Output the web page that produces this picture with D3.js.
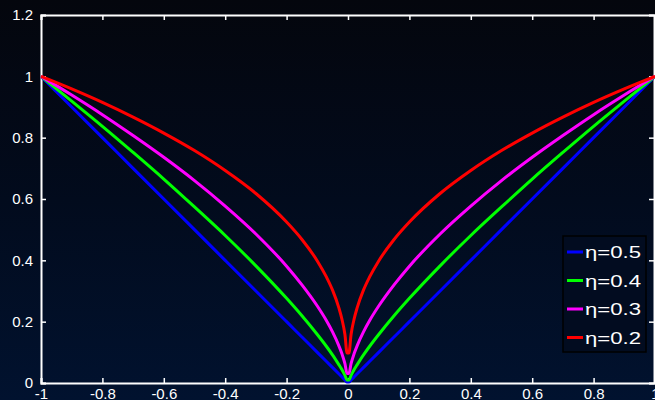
<!DOCTYPE html>
<meta charset="utf-8">
<head>
    <script type="text/javascript" src="https://d3js.org/d3.v7.min.js"></script>
    <style>
        body { margin: 0; background: #000; }
        svg { display: block; }
        text { font-family: "Liberation Sans", Arial, sans-serif; fill: #fff; }
    </style>
    <title></title>
</head>
<body>
<script>

    // x samples and curve values
    var xs = [-1, -0.9, -0.8, -0.7, -0.6, -0.5, -0.4, -0.3, -0.2, -0.15, -0.1, -0.07, -0.05, -0.03, -0.02, -0.01, -0.003,
              0.003, 0.01, 0.02, 0.03, 0.05, 0.07, 0.1, 0.15, 0.2, 0.3, 0.4, 0.5, 0.6, 0.7, 0.8, 0.9, 1];
    var eta05 = [1, 0.9, 0.8, 0.7, 0.6, 0.5, 0.4, 0.3, 0.2, 0.15, 0.1, 0.07, 0.05, 0.03, 0.02, 0.01, 0.003,
                 0.003, 0.01, 0.02, 0.03, 0.05, 0.07, 0.1, 0.15, 0.2, 0.3, 0.4, 0.5, 0.6, 0.7, 0.8, 0.9, 1];
    var eta04 = [1, 0.919, 0.837, 0.752, 0.665, 0.574, 0.481, 0.382, 0.276, 0.219, 0.158, 0.119, 0.091, 0.060, 0.044, 0.025, 0.010,
                 0.010, 0.025, 0.044, 0.060, 0.091, 0.119, 0.158, 0.219, 0.276, 0.382, 0.481, 0.574, 0.665, 0.752, 0.837, 0.919, 1];
    var eta03 = [1, 0.939, 0.875, 0.807, 0.736, 0.660, 0.577, 0.486, 0.381, 0.320, 0.251, 0.203, 0.166, 0.122, 0.096, 0.063, 0.031,
                 0.031, 0.063, 0.096, 0.122, 0.166, 0.203, 0.251, 0.320, 0.381, 0.486, 0.577, 0.660, 0.736, 0.807, 0.875, 0.939, 1];
    var eta02 = [1, 0.959, 0.915, 0.867, 0.815, 0.758, 0.693, 0.618, 0.525, 0.468, 0.398, 0.345, 0.302, 0.246, 0.209, 0.158, 0.098,
                 0.098, 0.158, 0.209, 0.246, 0.302, 0.345, 0.398, 0.468, 0.525, 0.618, 0.693, 0.758, 0.815, 0.867, 0.915, 0.959, 1];

    var seriesNames = ["\u03b7=0.5", "\u03b7=0.4", "\u03b7=0.3", "\u03b7=0.2"];
    var seriesColors = ["#0000ff", "#00ff00", "#ff00ff", "#ff0000"];
    var seriesValues = [eta05, eta04, eta03, eta02];

    var xTicks = [-1, -0.8, -0.6, -0.4, -0.2, 0, 0.2, 0.4, 0.6, 0.8, 1];
    var yTicks = [0, 0.2, 0.4, 0.6, 0.8, 1, 1.2];

    // dimensions
    var W = 655, H = 400;
    var margin = {top: 15, right: 0, bottom: 17, left: 41};

    var svg = d3.select("body")
        .append("svg")
        .attr("width", W)
        .attr("height", H);

    // background gradient
    var defs = svg.append("defs");
    var grad = defs.append("linearGradient")
        .attr("id", "bg")
        .attr("x1", 0).attr("y1", 0).attr("x2", 0).attr("y2", 1);
    grad.append("stop").attr("offset", "0%").attr("stop-color", "#04060d");
    grad.append("stop").attr("offset", "50%").attr("stop-color", "#020b1d");
    grad.append("stop").attr("offset", "100%").attr("stop-color", "#01122f");

    svg.append("rect")
        .attr("width", W).attr("height", H)
        .attr("fill", "url(#bg)");

    var x = d3.scaleLinear().domain([-1, 1]).range([margin.left, W - margin.right]);
    var y = d3.scaleLinear().domain([0, 1.2]).range([H - margin.bottom, margin.top]);

    // plain hyphen minus like the original
    var fmt = function (d) { return String(d); };

    // axes with inward ticks
    var axisColor = "#ffffff";
    var gx = svg.append("g")
        .attr("transform", "translate(0," + y(0) + ")")
        .call(d3.axisBottom(x).tickValues(xTicks).tickSize(-5).tickPadding(9).tickFormat(fmt));
    var gxTop = svg.append("g")
        .attr("transform", "translate(0," + y(1.2) + ")")
        .call(d3.axisTop(x).tickValues(xTicks).tickSize(-5).tickFormat(""));
    var gy = svg.append("g")
        .attr("transform", "translate(" + x(-1) + ",0)")
        .call(d3.axisLeft(y).tickValues(yTicks).tickSize(-5).tickPadding(8).tickFormat(fmt));
    var gyRight = svg.append("g")
        .attr("transform", "translate(" + (x(1) - 1) + ",0)")
        .call(d3.axisRight(y).tickValues(yTicks).tickSize(-5).tickFormat(""));

    [gx, gxTop, gy, gyRight].forEach(function (g) {
        g.select(".domain").attr("stroke", axisColor).attr("stroke-width", 2);
        g.selectAll(".tick line").attr("stroke", axisColor).attr("stroke-width", 1.5);
        g.selectAll(".tick text").style("font-size", "15px").attr("fill", "#fff")
            .style("font-family", "Liberation Sans, Arial, sans-serif");
    });
    gx.selectAll(".tick text").attr("dy", "0.45em");

    // curves
    var line = d3.line()
        .x(function (d) { return x(d[0]); })
        .y(function (d) { return y(d[1]); })
        .curve(d3.curveMonotoneX);

    seriesValues.forEach(function (vals, i) {
        var pts = xs.map(function (xv, j) { return [xv, vals[j]]; });
        svg.append("path")
            .datum(pts)
            .attr("fill", "none")
            .attr("stroke", seriesColors[i])
            .attr("stroke-width", 3)
            .attr("stroke-linejoin", "round")
            .attr("d", line);
    });

    // legend
    var lg = svg.append("g").attr("transform", "translate(563,236)");
    lg.append("rect")
        .attr("width", 83).attr("height", 116)
        .attr("fill", "#020c20")
        .attr("stroke", "#000")
        .attr("stroke-width", 1.5);
    seriesNames.forEach(function (name, i) {
        var cy = 16 + i * 28.5;
        lg.append("line")
            .attr("x1", 4).attr("x2", 20)
            .attr("y1", cy).attr("y2", cy)
            .attr("stroke", seriesColors[i])
            .attr("stroke-width", 3);
        lg.append("text")
            .attr("x", 22).attr("y", cy + 6)
            .attr("textLength", 56)
            .attr("lengthAdjust", "spacingAndGlyphs")
            .style("font-size", "17px")
            .text(name);
    });

</script>
</body>
</html>
